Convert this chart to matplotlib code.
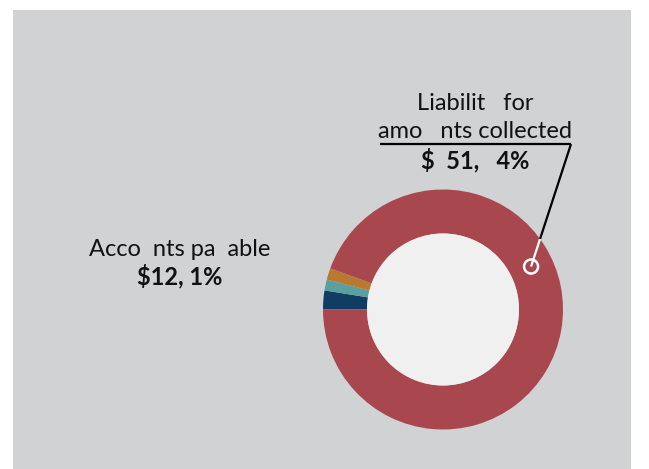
import matplotlib
matplotlib.use("Agg")
import matplotlib.pyplot as plt
from matplotlib.patches import Rectangle, Circle
import numpy as np

# Data
categories = ["Other A", "Accounts payable", "Other B", "Liability for amounts collected"]
values = [31, 18, 19, 1151]
colors = ["#123d62", "#5aa0a1", "#b77a2f", "#a9474e"]

label_big = ["Liabilit   for", "amo   nts collected", "$  51,   4%"]
label_small = ["Acco  nts pa  able", "$12, 1%"]

W, H = 649, 469
fig = plt.figure(figsize=(W / 100, H / 100), dpi=100, facecolor="white")
ax = fig.add_axes([0, 0, 1, 1])

cx, cy = 443, H - 309.5
R, ring = 120, 44

ax.add_patch(Rectangle((13, 0), 618, H - 10, facecolor="#d1d2d4", edgecolor="none", zorder=0))

ax.pie(values, colors=colors, startangle=180, counterclock=False,
       center=(cx, cy), radius=R, frame=True,
       wedgeprops=dict(width=ring, edgecolor="none", linewidth=0))
ax.add_patch(Circle((cx, cy), R - ring, facecolor="#f0f0f0", edgecolor="none", zorder=3))

ax.set_xlim(0, W)
ax.set_ylim(0, H)
ax.set_aspect("equal")
ax.axis("off")

font = "Lato"
fs = 17

# Big label
tx = 475
ax.text(tx, H - 103, label_big[0], ha="center", va="center", fontsize=fs, family=font, color="#111111")
ax.text(tx, H - 131, label_big[1], ha="center", va="center", fontsize=fs, family=font, color="#111111")
ax.text(tx, H - 160, label_big[2], ha="center", va="center", fontsize=fs, family=font,
        fontweight="bold", color="#111111")

# leader
ux0, ux1, uy = 380, 571, H - 144
ang = np.deg2rad(26)
rm = R - ring / 2
px, py = cx + rm * np.cos(ang), cy + rm * np.sin(ang)
ax.plot([ux0, ux1], [uy, uy], color="black", lw=1.6, zorder=5, solid_capstyle="butt")
t = np.linspace(0, 1, 500)
lx = ux1 + (px - ux1) * t
ly = uy + (py - uy) * t
d = np.hypot(lx - cx, ly - cy)
k = np.argmax(d <= R)
ax.plot([ux1, lx[k]], [uy, ly[k]], color="black", lw=1.6, zorder=5, solid_capstyle="butt")
ax.plot([lx[k], px], [ly[k], py], color="white", lw=1.6, zorder=5, solid_capstyle="butt")
ax.add_patch(Circle((px, py), 7, facecolor="none", edgecolor="white", lw=1.8, zorder=6))

# Small label
sx = 180
ax.text(sx, H - 250, label_small[0], ha="center", va="center", fontsize=fs, family=font, color="#111111")
ax.text(sx, H - 276, label_small[1], ha="center", va="center", fontsize=fs, family=font,
        fontweight="bold", color="#111111")

fig.savefig("out.png", dpi=100, facecolor="white")
